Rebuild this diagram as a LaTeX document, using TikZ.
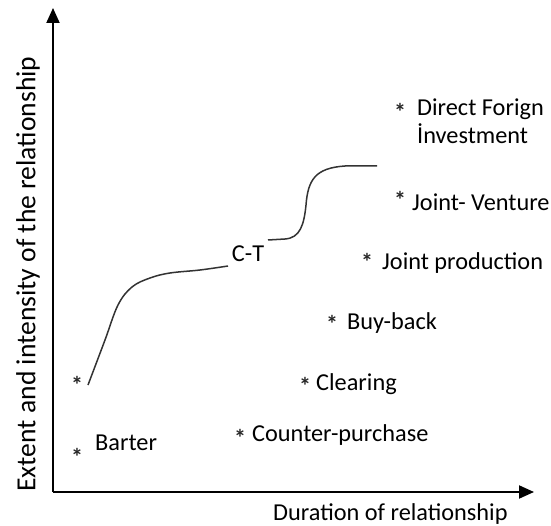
\documentclass[tikz,border=0pt]{standalone}
\usepackage{fontspec}
\setmainfont{Carlito}
\usetikzlibrary{arrows.meta}

\begin{document}
\begin{tikzpicture}[x=1pt, y=-1pt,
  lbl/.style={anchor=west, inner sep=0pt, font=\fontsize{24.3}{28}\selectfont},
  starmark/.style={anchor=base, inner sep=0pt, font=\bfseries\fontsize{24}{24}\selectfont, text=black!85},
  axis/.style={line width=2pt, -{Triangle[length=15pt,width=13pt]}}]
  \useasboundingbox (0,0) rectangle (551,526);

  % axes
  \coordinate (origin) at (53,492);
  \coordinate (ytip) at (53,8);
  \coordinate (xtip) at (534,492);
  \draw [axis] (origin) -- (ytip);
  \draw [axis] (origin) -- (xtip);

  \node [inner sep=0pt, rotate=90, font=\fontsize{27.6}{30}\selectfont] (ylabel) at (28,274) {Extent and intensity of the relationship};
  \node [lbl] (xlabel) at (273,514) {Duration of relationship};

  % curve
  \draw [line width=1.5pt, black!80] plot [smooth, tension=0.6] coordinates
    {(88,385) (105,340) (118,305) (132,287) (150,278) (170,273) (200,270) (228,266)};
  \draw [line width=1.5pt, black!80] (268,240) -- (285,239)
    .. controls (300,238) and (304,225) .. (306,205)
    .. controls (308,180) and (315,168) .. (345,166) -- (377,166);
  \node [lbl, anchor=center] (ct) at (248,254) {C-T};

  % forms
  \node [starmark] (s0) at (77,393) {*};
  \node [starmark] (s1) at (77,465) {*};
  \node [lbl] (barter) at (95,443) {Barter};
  \node [starmark] (s2) at (240,446) {*};
  \node [lbl] (counter) at (252,435) {Counter-purchase};
  \node [starmark] (s3) at (305,394) {*};
  \node [lbl] (clearing) at (316,384) {Clearing};
  \node [starmark] (s4) at (332,333) {*};
  \node [lbl] (buyback) at (347,323) {Buy-back};
  \node [starmark] (s5) at (367,271) {*};
  \node [lbl] (jprod) at (382,263) {Joint production};
  \node [starmark] (s6) at (400,209) {*};
  \node [lbl] (jv) at (412,202) {Joint- Venture};
  \node [starmark] (s7) at (400,121) {*};
  \node [lbl, align=left] (fdi) at (417,121) {Direct Forign\\İnvestment};
\end{tikzpicture}
\end{document}
